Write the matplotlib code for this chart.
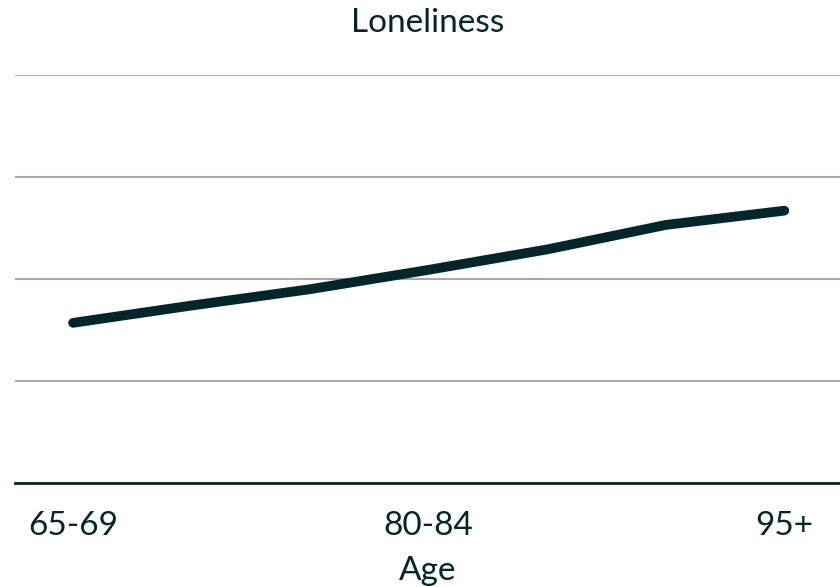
import matplotlib
matplotlib.use("Agg")
import matplotlib.pyplot as plt

ages = ["65-69", "70-74", "75-79", "80-84", "85-89", "90-94", "95+"]
loneliness = [1.57, 1.74, 1.90, 2.09, 2.29, 2.53, 2.67]
shown_ticks = ["65-69", "80-84", "95+"]

dark = "#03262a"
plt.rcParams['font.family'] = ['Lato', 'DejaVu Sans']

fig = plt.figure(figsize=(8.4, 5.87), dpi=100)
ax = fig.add_axes([15/840, (587-483)/587, 825/840, (483-75)/587])

x = list(range(len(ages)))
ax.plot(x, loneliness, color=dark, linewidth=7, solid_capstyle='round', solid_joinstyle='round', zorder=3)

ax.set_xlim(-0.49, 6.47)
ax.set_ylim(0, 4)
ax.set_yticks([0, 1, 2, 3, 4])
ax.yaxis.grid(True, color="#aaaaaa", linewidth=1.5)
ax.set_yticklabels([])
ax.tick_params(axis='y', length=0)
for s in ['top', 'right', 'left']:
    ax.spines[s].set_visible(False)
ax.spines['bottom'].set_color(dark)
ax.spines['bottom'].set_linewidth(2)
ax.spines['bottom'].set_zorder(4)

pos = [ages.index(t) for t in shown_ticks]
ax.set_xticks(pos)
ax.set_xticklabels(shown_ticks, fontsize=24, color=dark)
ax.tick_params(axis='x', length=0, pad=20)
ax.set_xlabel("Age", fontsize=24, color=dark, labelpad=11)

fig.text(428/840, 1 - 23/587, "Loneliness", ha='center', va='center', fontsize=24, color=dark)

fig.savefig("out.png", dpi=100)
